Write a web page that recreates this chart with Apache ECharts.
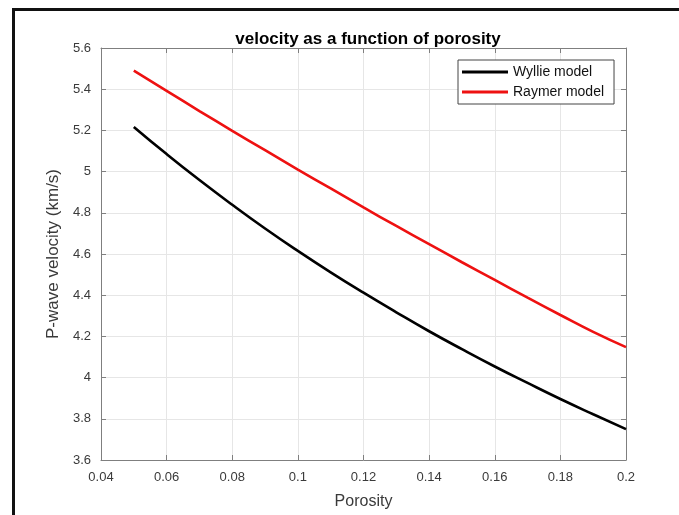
<!DOCTYPE html>
<html>
<head>
<meta charset="utf-8">
<script src="https://cdn.jsdelivr.net/npm/echarts@6/dist/echarts.min.js"></script>
<style>
html, body { margin: 0; padding: 0; background: #fff; }
#chart { width: 679px; height: 515px; }
</style>
</head>
<body>
<div id="chart"></div>
<script>
// porosity values (x)
var porosity = [0.05, 0.06, 0.07, 0.08, 0.09, 0.10, 0.11, 0.12, 0.13, 0.14, 0.15, 0.16, 0.17, 0.18, 0.19, 0.20];
// P-wave velocity (km/s)
var wyllie = [5.217, 5.085, 4.959, 4.839, 4.724, 4.615, 4.511, 4.412, 4.317, 4.225, 4.138, 4.054, 3.974, 3.896, 3.822, 3.750];
var raymer = [5.490, 5.392, 5.294, 5.198, 5.104, 5.010, 4.918, 4.826, 4.736, 4.648, 4.560, 4.474, 4.388, 4.304, 4.222, 4.148];
var seriesNames = ['Wyllie model', 'Raymer model'];

function pairs(xs, ys) {
    var res = [];
    for (var i = 0; i < xs.length; i++) {
        res.push([xs[i], ys[i]]);
    }
    return res;
}

var axisGray = '#7f7f7f';
var labelColor = '#3a3a3a';
var font = 'Liberation Sans, Arial, sans-serif';

// shared look for the frame axes (ticks inside, box on)
function boxAxis(extra) {
    var a = {
        type: 'value',
        axisLine: { show: true, lineStyle: { color: axisGray, width: 1 } },
        axisTick: { show: true, inside: true, length: 5, lineStyle: { color: axisGray } },
        splitLine: { show: false },
        axisLabel: { show: false }
    };
    for (var k in extra) a[k] = extra[k];
    return a;
}

var myChart = echarts.init(document.getElementById('chart'));
var option = {
    backgroundColor: '#fff',
    animation: false,
    title: {
        text: 'velocity as a function of porosity',
        left: 363,
        textAlign: 'center',
        top: 26,
        textStyle: { fontFamily: font, fontSize: 17, fontWeight: 'bold', color: '#000' }
    },
    grid: { left: 101, right: 53, top: 48, bottom: 55, containLabel: false },
    legend: {
        data: seriesNames,
        orient: 'vertical',
        left: 458,
        top: 60,
        icon: 'rect',
        itemWidth: 46,
        itemHeight: 3,
        itemGap: 4,
        padding: [4, 10, 4, 4],
        backgroundColor: '#fff',
        borderColor: '#444',
        borderWidth: 1,
        textStyle: { fontFamily: font, fontSize: 14, lineHeight: 16, color: '#111' }
    },
    xAxis: [
        boxAxis({
            min: 0.04, max: 0.2, interval: 0.02,
            position: 'bottom',
            name: 'Porosity',
            nameLocation: 'middle',
            nameGap: 34,
            nameTextStyle: { fontFamily: font, fontSize: 16, color: labelColor },
            splitLine: { show: true, lineStyle: { color: '#e6e6e6', width: 1 } },
            axisLabel: { show: true, margin: 11, fontFamily: font, fontSize: 13, color: labelColor }
        }),
        boxAxis({ min: 0.04, max: 0.2, interval: 0.02, position: 'top' })
    ],
    yAxis: [
        boxAxis({
            min: 3.6, max: 5.6, interval: 0.2,
            position: 'left',
            name: 'P-wave velocity (km/s)',
            nameLocation: 'middle',
            nameGap: 34,
            nameRotate: 90,
            nameTextStyle: { fontFamily: font, fontSize: 17, color: labelColor },
            splitLine: { show: true, lineStyle: { color: '#e6e6e6', width: 1 } },
            axisLabel: { show: true, margin: 10, fontFamily: font, fontSize: 13, color: labelColor }
        }),
        boxAxis({ min: 3.6, max: 5.6, interval: 0.2, position: 'right' })
    ],
    series: [
        {
            name: seriesNames[0],
            type: 'line',
            data: pairs(porosity, wyllie),
            smooth: true,
            showSymbol: false,
            color: '#000',
            lineStyle: { color: '#000', width: 2.6 }
        },
        {
            name: seriesNames[1],
            type: 'line',
            data: pairs(porosity, raymer),
            smooth: true,
            showSymbol: false,
            color: '#ee1111',
            lineStyle: { color: '#ee1111', width: 2.6 }
        }
    ],
    graphic: [
        {
            type: 'rect',
            silent: true,
            z: 100,
            shape: { x: 13.5, y: 9.5, width: 800, height: 700 },
            style: { fill: null, stroke: '#111', lineWidth: 3 }
        }
    ]
};
myChart.setOption(option, true);
</script>
</body>
</html>
